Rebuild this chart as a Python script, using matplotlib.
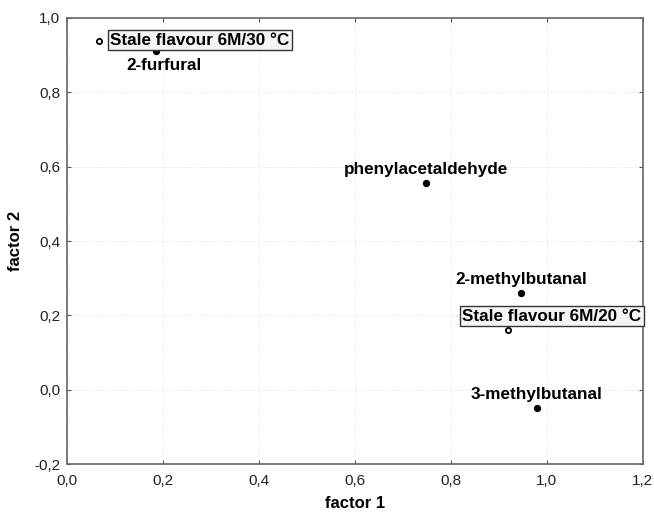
import matplotlib
matplotlib.use("Agg")
import matplotlib.pyplot as plt
from matplotlib.ticker import FuncFormatter

plt.rcParams['font.family'] = ['Liberation Sans', 'DejaVu Sans']

# compounds (solid dots)
names = ["2-furfural", "phenylacetaldehyde", "2-methylbutanal", "3-methylbutanal"]
f1 = [0.185, 0.748, 0.946, 0.979]
f2 = [0.910, 0.556, 0.260, -0.049]

# stale flavour samples (boxed labels)
stale_names = ["Stale flavour 6M/30 °C", "Stale flavour 6M/20 °C"]
stale_f1 = [0.067, 0.919]
stale_f2 = [0.938, 0.161]

fig = plt.figure(figsize=(6.54, 5.14), dpi=100)
ax = fig.add_axes([0.1025, 0.097, 0.8805, 0.868])

ax.scatter(f1, f2, s=18, color="black", zorder=3)
ax.scatter(stale_f1, stale_f2, s=14, facecolor="white", edgecolor="black", linewidth=1.3, zorder=3)

# label offsets in points
offs = {"2-furfural": (6, -10), "phenylacetaldehyde": (0, 9.5),
        "2-methylbutanal": (0, 9.5), "3-methylbutanal": (0, 9.5)}
for n, x, y in zip(names, f1, f2):
    ax.annotate(n, (x, y), xytext=offs[n], textcoords="offset points",
                ha="center", va="center", fontsize=12.3, fontweight="bold")

stale_offs = [(8, 0.5), (-33, 10)]
for n, x, y, o in zip(stale_names, stale_f1, stale_f2, stale_offs):
    ax.annotate(n, (x, y), xytext=o, textcoords="offset points",
                ha="left", va="center", fontsize=12.3, fontweight="bold",
                bbox=dict(boxstyle="square,pad=0.15", facecolor="#f4f4f4", edgecolor="#333333", linewidth=1))

ax.set_xlim(0, 1.2)
ax.set_ylim(-0.2, 1.0)
ax.set_xticks([0, 0.2, 0.4, 0.6, 0.8, 1.0, 1.2])
ax.set_yticks([-0.2, 0, 0.2, 0.4, 0.6, 0.8, 1.0])
fmt = FuncFormatter(lambda v, p: ("%.1f" % v).replace(".", ","))
ax.xaxis.set_major_formatter(fmt)
ax.yaxis.set_major_formatter(fmt)
ax.tick_params(direction="in", length=3, labelsize=11, colors="#555555", labelcolor="#222222",
               top=True, right=True)
ax.tick_params(axis="x", pad=7)
ax.tick_params(axis="y", pad=5)
ax.grid(True, color="#dddddd", linewidth=0.6, linestyle=":")
for s in ax.spines.values():
    s.set_color("#666666")
    s.set_linewidth(1.2)

ax.set_xlabel("factor 1", fontsize=12, fontweight="bold", labelpad=6)
ax.set_ylabel("factor 2", fontsize=12, fontweight="bold", labelpad=8)

fig.savefig("out.png", dpi=100)
